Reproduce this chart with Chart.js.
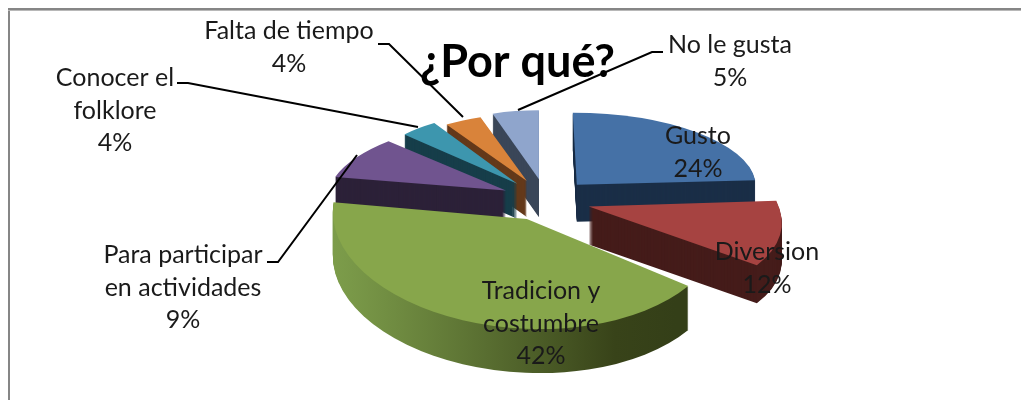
<!DOCTYPE html>
<html>
<head>
<meta charset="utf-8">
<style>
html, body { margin: 0; padding: 0; background: #fff; overflow: hidden; }
canvas { filter: blur(0.5px); }
</style>
<script src="https://cdn.jsdelivr.net/npm/chart.js@4/dist/chart.umd.min.js"></script>
</head>
<body>
<canvas id="por-que-chart" width="1021" height="400"></canvas>
<script>
var categories = ['Gusto', 'Diversion', 'Tradicion y costumbre', 'Para participar en actividades', 'Conocer el folklore', 'Falta de tiempo', 'No le gusta']
var percents = [24, 12, 42, 9, 4, 4, 5]
var colors = ['#4571a6', '#a64341', '#87a64b', '#70548f', '#3d96ae', '#d9833a', '#8fa5cc']
var sideColors = ['#1a2e47', '#451c1a', null, '#2c2138', '#173e4a', '#64391a', '#3a4658']

// how the flat pie is tilted: centre, explosion, and a matrix per slice (fake perspective)
var pieCentre = { x: 546, y: 200 }
var explode = { x: 45, y: 21 }
var rx = [179, 190, 193, 177, 155, 150, 150]
var ry = [72, 92, 110, 72, 72, 67, 69]
var skewX = [4, 34, 20, -17, 0, 0, 0]
var skewY = [0, 0, -4, 0, 0, 0, 0]
var depth = [37, 38, 44, 30, 35, 36, 38]

// label text lines, one entry per slice, with the centre x and first baseline
var labelLines = [['Gusto'], ['Diversion'], ['Tradicion y', 'costumbre'], ['Para participar', 'en actividades'], ['Conocer el', 'folklore'], ['Falta de tiempo'], ['No le gusta']]
var labelPos = [[698, 144], [767, 260], [541, 299], [183, 263], [115, 86], [289, 39], [730, 53]]
var leaders = [
	null, null, null,
	[[267, 262], [278, 262], [357, 155]],
	[[177, 83], [188, 83], [418, 127]],
	[[378, 44], [389, 44], [463, 117]],
	[[663, 52], [652, 52], [518, 110]]
]

function sliceTransform(ctx, arc, i, R) {
	var mid = (arc.startAngle + arc.endAngle) / 2
	var ax = pieCentre.x + explode.x * Math.cos(mid)
	var ay = pieCentre.y + explode.y * Math.sin(mid)
	ctx.translate(ax, ay)
	ctx.transform(rx[i] / R, skewY[i] / R, skewX[i] / R, ry[i] / R, 0, 0)
	ctx.translate(-arc.x, -arc.y)
}

var pie3d = {
	id: 'pie3d',
	beforeDatasetDraw: function(chart) {
		var ctx = chart.ctx
		var arcs = chart.getDatasetMeta(0).data
		// far slices first
		var order = arcs.map(function(a, i) { return i }).sort(function(p, q) {
			var mp = (arcs[p].startAngle + arcs[p].endAngle) / 2
			var mq = (arcs[q].startAngle + arcs[q].endAngle) / 2
			return Math.sin(mp) - Math.sin(mq)
		})
		order.forEach(function(i) {
			var arc = arcs[i]
			var R = arc.outerRadius
			var top = arc.options.backgroundColor
			var side = sideColors[i]
			if (!side) {
				side = ctx.createLinearGradient(arc.x - R, 0, arc.x + R * 0.7, 0)
				side.addColorStop(0, '#7c9c4a')
				side.addColorStop(0.45, '#55692e')
				side.addColorStop(0.8, '#384319')
				side.addColorStop(1, '#343f18')
			}
			arc.options.backgroundColor = side
			arc.options.borderColor = side
			for (var d = depth[i]; d > 0; d--) {
				ctx.save()
				ctx.translate(0, d)
				sliceTransform(ctx, arc, i, R)
				arc.draw(ctx)
				ctx.restore()
			}
			arc.options.backgroundColor = top
			arc.options.borderColor = top
			ctx.save()
			sliceTransform(ctx, arc, i, R)
			arc.draw(ctx)
			ctx.restore()
		})
		return false
	},
	beforeDraw: function(chart) {
		var ctx = chart.ctx
		ctx.save()
		ctx.fillStyle = '#868686'
		ctx.fillRect(8, 8, 1013, 2)
		ctx.fillRect(8, 8, 2, 392)
		ctx.fillStyle = '#b8b8b8'
		ctx.fillRect(8, 10, 1013, 1)
		ctx.restore()
	},
	afterDatasetsDraw: function(chart) {
		var ctx = chart.ctx
		ctx.save()
		ctx.strokeStyle = '#000'
		ctx.lineWidth = 2
		leaders.forEach(function(pts) {
			if (!pts) return
			ctx.beginPath()
			pts.forEach(function(p, j) {
				if (j == 0) ctx.moveTo(p[0], p[1])
				else ctx.lineTo(p[0], p[1])
			})
			ctx.stroke()
		})
		ctx.fillStyle = '#1a1a1a'
		ctx.font = '25px Lato'
		ctx.textAlign = 'center'
		ctx.textBaseline = 'alphabetic'
		labelLines.forEach(function(lines, i) {
			var all = lines.concat([percents[i] + '%'])
			all.forEach(function(t, j) {
				ctx.fillText(t, labelPos[i][0], labelPos[i][1] + j * 32.5)
			})
		})
		ctx.restore()
	}
}

function initCharts() {
	var ctx = document.getElementById('por-que-chart')
	ctx = ctx.getContext('2d')
	var myChart = new Chart(ctx, {
		type: 'pie',
		data: {
			labels: categories,
			datasets: [{
				data: percents,
				backgroundColor: colors,
				borderWidth: 0,
				hoverOffset: 0
			}]
		},
		options: {
			responsive: false,
			animation: false,
			events: [],
			layout: { padding: { left: 14, top: 35 } },
			plugins: {
				legend: { display: false },
				tooltip: { enabled: false },
				title: {
					display: true,
					text: '¿Por qué?',
					color: '#000',
					padding: 0,
					font: { family: 'Lato', size: 45, weight: 'bold' }
				}
			}
		},
		plugins: [pie3d]
	})
}
initCharts()
</script>
</body>
</html>
